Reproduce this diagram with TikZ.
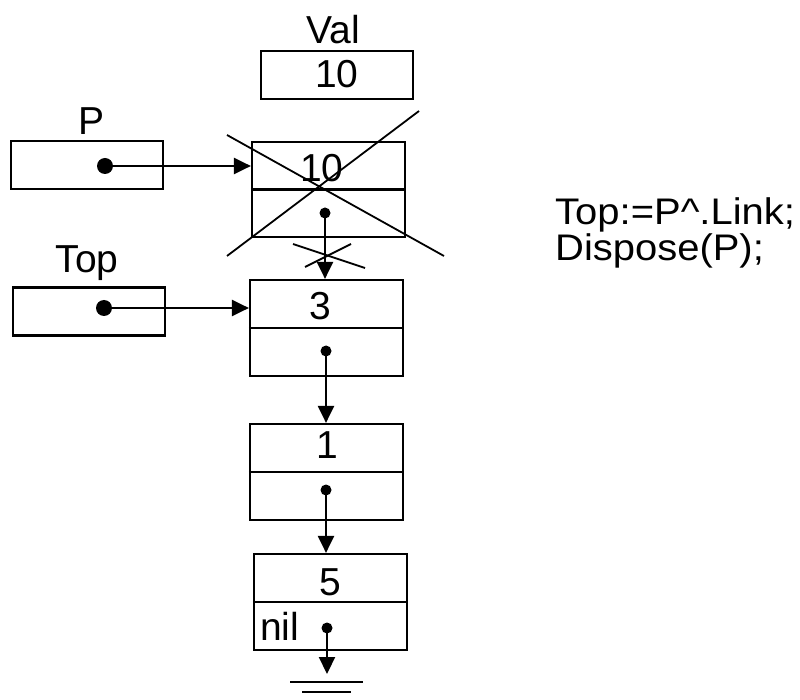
\documentclass[tikz,border=0pt]{standalone}
\usepackage{fontspec}
\setmainfont{Liberation Sans}
\usetikzlibrary{arrows.meta}
\begin{document}
\begin{tikzpicture}[x=1pt,y=-1pt,line width=2.2pt,
  varbox/.style={draw,rectangle,line width=2.2pt,minimum width=152pt,minimum height=48pt,inner sep=0pt},
  listbox/.style={draw,rectangle,line width=2.2pt,minimum width=153pt,minimum height=96pt,inner sep=0pt},
  lbl/.style={font=\fontsize{39}{44}\selectfont,anchor=base,inner sep=0pt},
  codetxt/.style={font=\fontsize{37}{36}\selectfont,anchor=base west,align=left,inner sep=0pt,xscale=1.08,transform shape},
  ptr/.style={-{Triangle[length=17pt,width=16pt]},line width=2.2pt},
  dotn/.style={circle,fill,inner sep=0pt,minimum size=11pt},
  bigdot/.style={circle,fill,inner sep=0pt,minimum size=16pt},
  strike/.style={line width=1.8pt},
  divider/.style={line width=2.8pt}]
\useasboundingbox (0,0) rectangle (800,700);

% Val variable
\node[lbl] (vallbl) at (333,44) {Val};
\node[varbox] (val) at (337,75) {};
\node[lbl] (valnum) at (337,88) {10};

% P variable
\node[lbl] (plbl) at (92,135) {P};
\node[varbox] (p) at (87,165) {};
\node[bigdot] (pd) at (105,166) {};

% Top variable
\node[lbl] (toplbl) at (87,273) {Top};
\node[varbox] (top) at (89,311.5) {};
\node[bigdot] (td) at (104,308) {};

% disposed node
\node[listbox,minimum height=95pt] (old) at (328.5,189.5) {};
\draw[divider] (old.west) -- (old.east);
\node[lbl] (oldnum) at (322,182) {10};
\node[dotn] (od) at (325,213) {};

% node 3
\node[listbox] (n3) at (326.5,328) {};
\draw[divider] (n3.west) -- (n3.east);
\node[lbl] (n3num) at (320,320) {3};
\node[dotn] (n3d) at (326,351) {};

% node 1
\node[listbox] (n1) at (326.5,472) {};
\draw[divider] (n1.west) -- (n1.east);
\node[lbl] (n1num) at (327,458) {1};
\node[dotn] (n1d) at (326,490) {};

% node 5
\node[listbox] (n5) at (330.5,602) {};
\draw[divider] (n5.west) -- (n5.east);
\node[lbl] (n5num) at (330,595) {5};
\node[lbl,anchor=base west] (nil) at (259,640) {nil};
\node[dotn] (n5d) at (327,628) {};

% pointers
\draw[ptr] (pd.center) -- (pd.center -| old.west);
\draw[ptr] (td.center) -- (td.center -| n3.west);
\draw[ptr] (od.center) -- (od.center |- n3.north);
\draw[ptr] (n3d.center) -- (n3d.center |- n1.north);
\draw[ptr] (n1d.center) -- (n1d.center |- n5.north);
\coordinate (gnd) at (327,674);
\draw[ptr] (n5d.center) -- (gnd);
\draw (290,682) -- (363,682);
\draw (302,692) -- (351,692);

% crossing out
\draw[strike] (227,135) -- (444,256);
\draw[strike] (227,256) -- (419,111);
\draw[strike] (293,244) -- (365,268);
\draw[strike] (305,267) -- (351,244);

% code
\node[codetxt] (code) at (554,261) {Top:=P\textasciicircum.Link;\\Dispose(P);};
\end{tikzpicture}
\end{document}
